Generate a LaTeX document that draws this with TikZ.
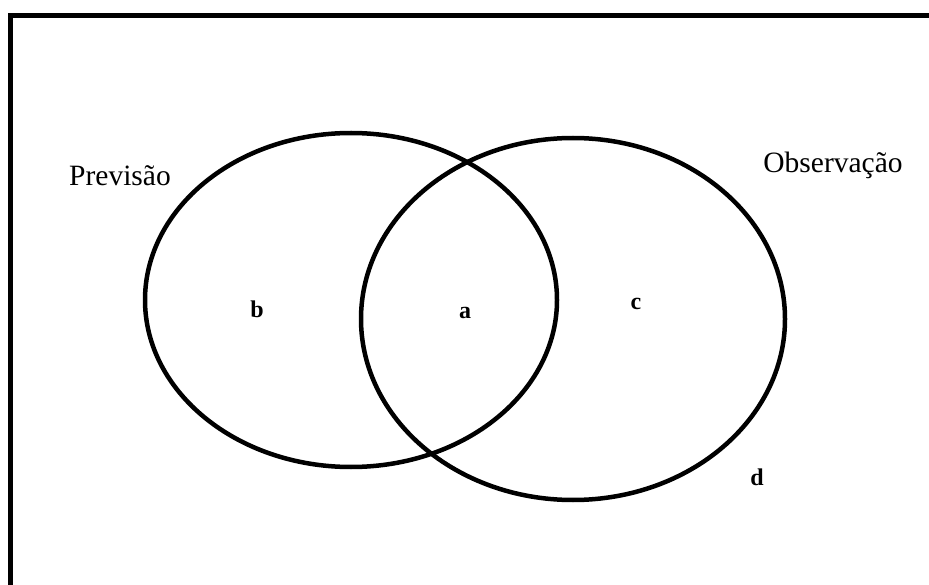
\documentclass[tikz,border=0pt]{standalone}
\usepackage{fontspec}
\setmainfont{Liberation Serif}
\usepackage{tikz}

\begin{document}
\begin{tikzpicture}[x=1pt, y=-1pt,
  set/.style={line width=4.5pt, black},
  frame/.style={line width=5pt, black},
  lbl/.style={font=\fontsize{29.5}{31}\selectfont, inner sep=0pt, anchor=base},
  reg/.style={font=\fontsize{24}{26}\selectfont\bfseries, inner sep=0pt, anchor=base}]
\useasboundingbox (0,0) rectangle (929,585);
% frame, open to the right and bottom
\draw[frame] (10.5,585) -- (10.5,16) -- (929,16);
% the two sets
\draw[set] (351,300) ellipse[x radius=206, y radius=167];
\draw[set] (573,319) ellipse[x radius=212, y radius=181];
% names of the sets
\node[lbl] (prev) at (120,186) {Previsão};
\node[lbl] (obs) at (833,173) {Observação};
% regions
\node[reg] (b) at (257,317) {b};
\node[reg] (a) at (465,319) {a};
\node[reg] (c) at (636,310) {c};
\node[reg] (d) at (757,485) {d};
\end{tikzpicture}
\end{document}
